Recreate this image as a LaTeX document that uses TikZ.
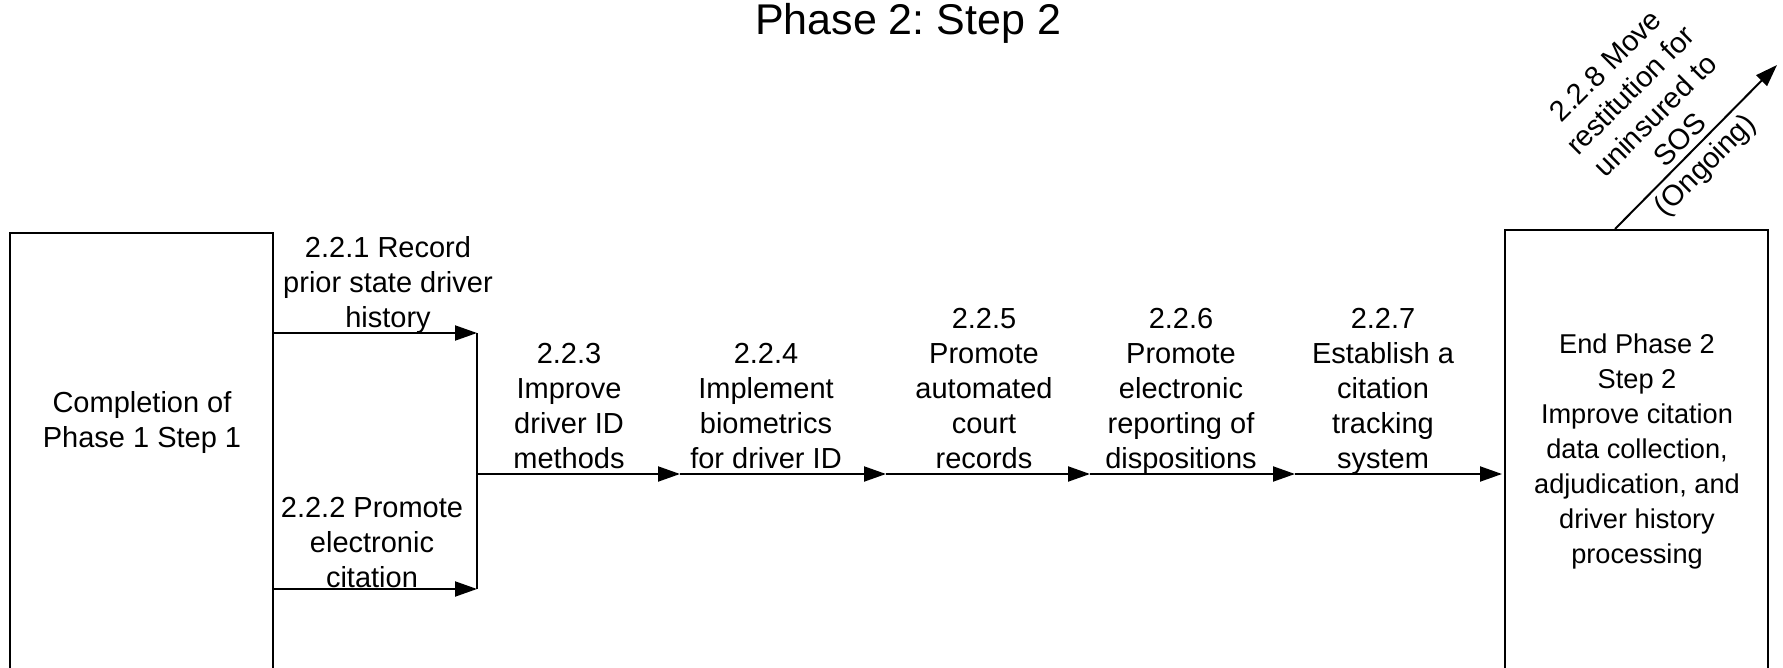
\documentclass[tikz,border=0pt]{standalone}
\usepackage{fontspec}
\setmainfont{Liberation Sans}
\usetikzlibrary{arrows.meta,fit,calc}
\frenchspacing
\begin{document}
\begin{tikzpicture}[x=0.5pt,y=-0.5pt,
  every node/.style={inner sep=0pt,outer sep=0pt},
  flow/.style={line width=1pt,-{Triangle[length=11pt,width=7.5pt]}},
  joint/.style={line width=1pt},
  frame/.style={draw,line width=1pt,inner sep=0pt},
  lbl/.style={align=center,font=\fontsize{14.5pt}{17.5pt}\selectfont,
    text depth=0pt,anchor=south},
  heading/.style={font=\fontsize{21.5pt}{26pt}\selectfont,anchor=base}]
\useasboundingbox (0,0) rectangle (1783,668);
\fill[white] (0,0) rectangle (1783,668);
\clip (0,0) rectangle (1783,668);

% title
\node[heading] (title) at (908,35) {Phase 2: Step 2};

% start and end boxes (they run past the lower edge)
\node[frame,fit={(10,233) (273,720)}] (start) {};
\node[lbl] (starttxt) at (142,447) {Completion of\\Phase 1 Step 1};
\node[frame,fit={(1505,230) (1768,720)}] (finish) {};
\node[lbl,font=\fontsize{13.6pt}{17.5pt}\selectfont] (finishtxt) at (1637,563)
  {End Phase 2\\Step 2\\Improve citation\\data collection,\\adjudication, and\\driver history\\processing};

% junction points
\coordinate (m1) at (477,333);
\coordinate (m2) at (477,589);
\coordinate (j0) at (477,474);
\coordinate (j1) at (680,474);
\coordinate (j2) at (886,474);
\coordinate (j3) at (1090,474);
\coordinate (j4) at (1295,474);
\coordinate (j5) at (1502,474);

% two parallel tasks merging
\draw[flow] (start.east |- m1) -- (m1);
\draw[flow] (start.east |- m2) -- (m2);
\draw[joint] (m1) -- (m2);

% sequential tasks
\draw[flow] (j0) -- (j1);
\draw[flow] (j1) -- (j2);
\draw[flow] (j2) -- (j3);
\draw[flow] (j3) -- (j4);
\draw[flow] (j4) -- (j5);

% ongoing task leaving the end box
\coordinate (dstart) at (1615,229);
\coordinate (ongoing) at (1777,65);
\draw[flow] (dstart) -- (ongoing);

% task labels
\node[lbl] (t1) at (388,328) {2.2.1 Record\\prior state driver\\history};
\node[lbl] (t2) at (372,587) {2.2.2 Promote\\electronic\\citation};
\node[lbl] (t3) at (569,468) {2.2.3\\Improve\\driver ID\\methods};
\node[lbl] (t4) at (766,468) {2.2.4\\Implement\\biometrics\\for driver ID};
\node[lbl] (t5) at (984,468) {2.2.5\\Promote\\automated\\court\\records};
\node[lbl] (t6) at (1181,468) {2.2.6\\Promote\\electronic\\reporting of\\dispositions};
\node[lbl] (t7) at (1383,468) {2.2.7\\Establish a\\citation\\tracking\\system};
\node[align=center,font=\fontsize{14.5pt}{17.5pt}\selectfont,rotate=45] (t8) at (1657,117)
  {2.2.8 Move\\restitution for\\uninsured to\\SOS\\(Ongoing)};
\end{tikzpicture}
\end{document}
